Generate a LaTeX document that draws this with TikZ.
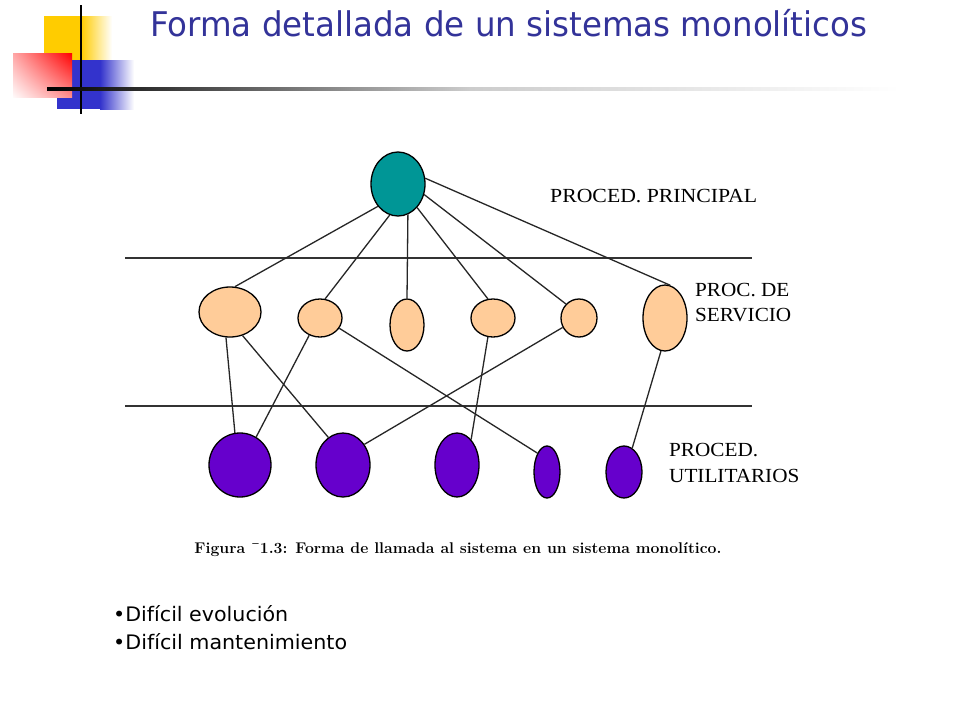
\documentclass[tikz,border=0pt]{standalone}
\usepackage{fontspec}
\usetikzlibrary{shapes.geometric,shadings}
\newfontfamily\tah{DejaVu Sans}
\newfontfamily\lser{Liberation Serif}
\definecolor{titleblue}{RGB}{51,51,153}
\definecolor{tealc}{RGB}{0,150,150}
\definecolor{peach}{RGB}{255,204,153}
\definecolor{violetc}{RGB}{102,0,204}
\definecolor{decoyellow}{RGB}{255,204,0}
\definecolor{decoblue}{RGB}{51,51,204}
\begin{document}
\begin{tikzpicture}[x=1pt,y=-1pt,
  proc/.style={ellipse, draw=black, line width=1.3pt, inner sep=0pt},
  mainproc/.style={proc, fill=tealc},
  serv/.style={proc, fill=peach},
  util/.style={proc, fill=violetc},
  link/.style={line width=1.3pt, black!85},
  layer/.style={line width=1.7pt, black!80},
  lbl/.style={anchor=base west, inner sep=0pt, font=\lser\fontsize{20}{20}\selectfont},
  txt/.style={anchor=base west, inner sep=0pt},
]
\useasboundingbox (0,0) rectangle (960,720);
\fill[white] (0,0) rectangle (960,720);

% decoration
\fill[decoyellow] (44,16) rectangle (81,60);
\shade[left color=decoyellow, right color=white] (81,16) rectangle (112,60);
\fill[decoblue] (57,60) rectangle (100,109);
\shade[left color=decoblue, right color=white] (100,60) rectangle (134,109);
\shade[upper left=red!35!white, upper right=red, lower left=red!2!white, lower right=red!45!white] (13,53) rectangle (72,97);
\draw[line width=2pt] (81,5) -- (81,114);
\shade[left color=black, right color=gray!40] (47,87.6) rectangle (470,90.4);
\shade[left color=gray!40, right color=white] (470,87.6) rectangle (900,90.4);

% title
\node[txt, text=titleblue, font=\tah\fontsize{34}{34}\selectfont] (title) at (150,36)
  {\resizebox{717pt}{\height}{Forma detallada de un sistemas monolíticos}};

% layer lines
\coordinate (l1a) at (125,258); \coordinate (l1b) at (752,258);
\coordinate (l2a) at (125,406); \coordinate (l2b) at (752,406);
\draw[layer] (l1a) -- (l1b);
\draw[layer] (l2a) -- (l2b);

% nodes
\node[mainproc, minimum width=54pt, minimum height=64pt] (t) at (398,184) {};
\node[serv, minimum width=62pt, minimum height=50pt] (s1) at (230,312) {};
\node[serv, minimum width=44pt, minimum height=38pt] (s2) at (320,318) {};
\node[serv, minimum width=34pt, minimum height=52pt] (s3) at (407,325) {};
\node[serv, minimum width=44pt, minimum height=38pt] (s4) at (493,318) {};
\node[serv, minimum width=36pt, minimum height=38pt] (s5) at (579,318) {};
\node[serv, minimum width=44pt, minimum height=66pt] (s6) at (665,318) {};
\node[util, minimum width=62pt, minimum height=64pt] (u1) at (240,465) {};
\node[util, minimum width=54pt, minimum height=64pt] (u2) at (343,465) {};
\node[util, minimum width=44pt, minimum height=64pt] (u3) at (457,465) {};
\node[util, minimum width=26pt, minimum height=52pt] (u4) at (547,472) {};
\node[util, minimum width=36pt, minimum height=52pt] (u5) at (624,472) {};

% connectors
\draw[link] (t.228) -- (s1.79);
\draw[link] (t.255) -- (s2.75);
\draw[link] (t.288) -- (s3.90);
\draw[link] (t.309) -- (s4.105);
\draw[link] (t.338) -- (s5.133);
\draw[link] (t.12) -- (s6.81);
\draw[link] (s1.261) -- (u1.99);
\draw[link] (s1.298) -- (u2.118);
\draw[link] (s2.238) -- (u1.60);
\draw[link] (s2.332) -- (u4.117);
\draw[link] (s4.255) -- (u3.61);
\draw[link] (s5.210) -- (u2.44);
\draw[link] (s6.263) -- (u5.71);

% labels
\node[lbl] (lp) at (550,202) {\resizebox{207pt}{\height}{PROCED. PRINCIPAL}};
\node[lbl] (ls1) at (695,296) {\scalebox{1.06}[1]{PROC. DE}};
\node[lbl] (ls2) at (695,321) {\scalebox{1.06}[1]{SERVICIO}};
\begin{scope}
\clip (660,430) rectangle (797,500);
\node[lbl] (lu1) at (669,456) {\scalebox{1.06}[1]{PROCED.}};
\node[lbl] (lu2) at (669,482) {\scalebox{1.06}[1]{UTILITARIOS}};
\end{scope}

% caption
\node[inner sep=0pt, font=\bfseries\fontsize{15.5}{15.5}\selectfont] (cap) at (458,550)
  {\resizebox{527pt}{\height}{Figura ¯1.3: Forma de llamada al sistema en un sistema monolítico.}};

% bullets
\node[txt, font=\tah\fontsize{20}{20}\selectfont] (b1) at (113,621) {\resizebox{175pt}{\height}{•Difícil evolución}};
\node[txt, font=\tah\fontsize{20}{20}\selectfont] (b2) at (113,649) {\resizebox{234pt}{\height}{•Difícil mantenimiento}};
\end{tikzpicture}
\end{document}
